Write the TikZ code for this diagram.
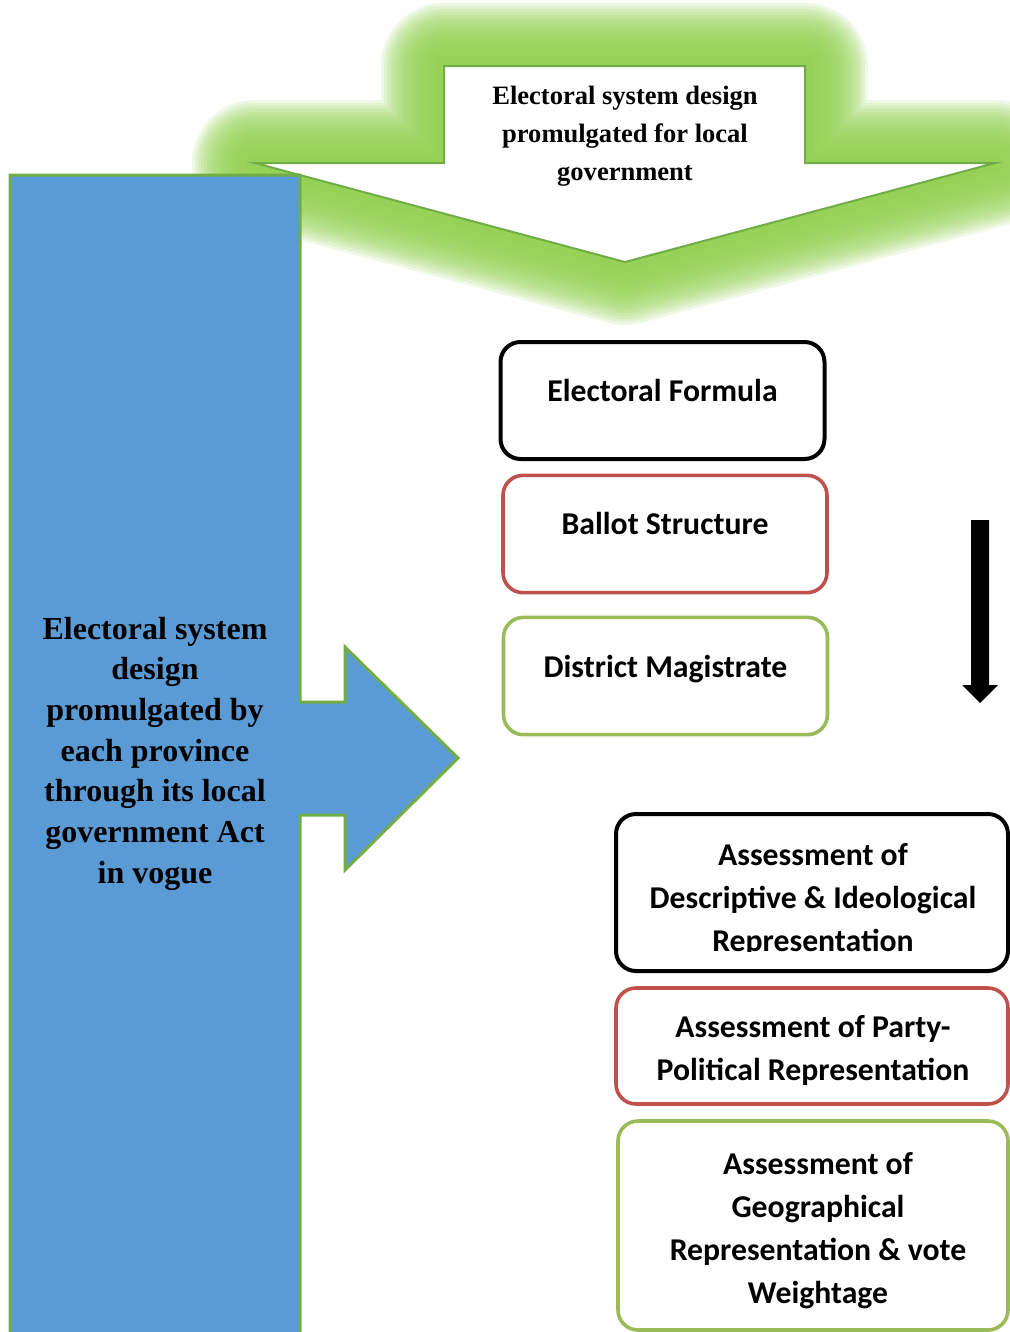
\documentclass[tikz,border=0pt]{standalone}
\usepackage{fontspec}
\setmainfont{Liberation Serif}
\newfontfamily\calib{Carlito}
\definecolor{blueF}{HTML}{5B9BD5}
\definecolor{outgreen}{HTML}{70AD47}
\definecolor{glowgreen}{HTML}{92D050}
\definecolor{redB}{HTML}{C0504D}
\definecolor{greenB}{HTML}{9BBB59}
\tikzset{
  rbox/.style={rectangle, rounded corners=15pt, fill=white, inner sep=0pt},
  calibtxt/.style={align=center, inner sep=0pt, font=\calib\bfseries\fontsize{23.8}{32.25}\selectfont},
  toptxt/.style={align=center, inner sep=0pt, font=\bfseries\fontsize{19.9}{28.5}\selectfont},
  lefttxt/.style={align=center, inner sep=0pt, font=\bfseries\fontsize{24}{30.5}\selectfont},
  glowlayer/.style={draw=glowgreen, fill=glowgreen, opacity=0.15, line join=round},
}
\begin{document}
\begin{tikzpicture}[x=0.75pt,y=-0.75pt]
\useasboundingbox (0,0) rectangle (1010,1332);
\clip (0,0) rectangle (1010,1332);
% soft glow of the top arrow
\foreach \w in {3,6,...,30,33,36,...,63}{
  \draw[glowlayer, line width={1.5pt*\w}]
    (444,66) -- (805,66) -- (805,163) -- (995,163) -- (625,262) -- (255,163) -- (444,163) -- cycle;
}
% top arrow
\draw[fill=white, draw=outgreen, line width=1.5pt, line join=miter]
  (444,66) -- (805,66) -- (805,163) -- (995,163) -- (625,262) -- (255,163) -- (444,163) -- cycle;
\node[toptxt] (toptext) at (625,136) {Electoral system design\\promulgated for local\\government};
% blue column with right arrow
\draw[fill=blueF, draw=outgreen, line width=2.25pt]
  (10,175) -- (300,175) -- (300,702) -- (345,702) -- (345,647) -- (458,758) -- (345,870) -- (345,815) -- (300,815) -- (300,1345) -- (10,1345) -- cycle;
\node[lefttxt] (lefttext) at (155,753.5) {Electoral system\\design\\promulgated by\\each province\\through its local\\government Act\\in vogue};
% upper boxes
\node[rbox, draw=black, line width=3pt, minimum width=243pt, minimum height=87.75pt] (formula) at (662.5,400.5) {};
\node[calibtxt, anchor=base] (formulat) at (662.5,401) {Electoral Formula};
\node[rbox, draw=redB, line width=2.7pt, minimum width=243pt, minimum height=88pt] (ballot) at (665,534) {};
\node[calibtxt, anchor=base] (ballott) at (665,534.5) {Ballot Structure};
\node[rbox, draw=greenB, line width=2.7pt, minimum width=243pt, minimum height=88pt] (district) at (665.5,676) {};
\node[calibtxt, anchor=base] (districtt) at (665.5,677) {District Magistrate};
% black down arrow
\fill[black] (971,520) -- (989,520) -- (989,685) -- (998,685) -- (980,703) -- (962,685) -- (971,685) -- cycle;
% lower boxes
\node[rbox, draw=black, line width=3pt, minimum width=294pt, minimum height=117.75pt] (descr) at (812,892.5) {};
\begin{scope}
\clip (616,814) rectangle (1008,951);
\node[calibtxt] (descrt) at (813,900) {Assessment of\\Descriptive \& Ideological\\Representation};
\end{scope}
\node[rbox, draw=redB, line width=2.7pt, minimum width=294pt, minimum height=87pt] (party) at (812,1046) {};
\node[calibtxt] (partyt) at (813,1050.5) {Assessment of Party-\\Political Representation};
\node[rbox, draw=greenB, line width=2.7pt, minimum width=292.5pt, minimum height=156.75pt] (geo) at (813,1225.5) {};
\node[calibtxt] (geot) at (818,1231) {Assessment of\\Geographical\\Representation \& vote\\Weightage};
\end{tikzpicture}
\end{document}
